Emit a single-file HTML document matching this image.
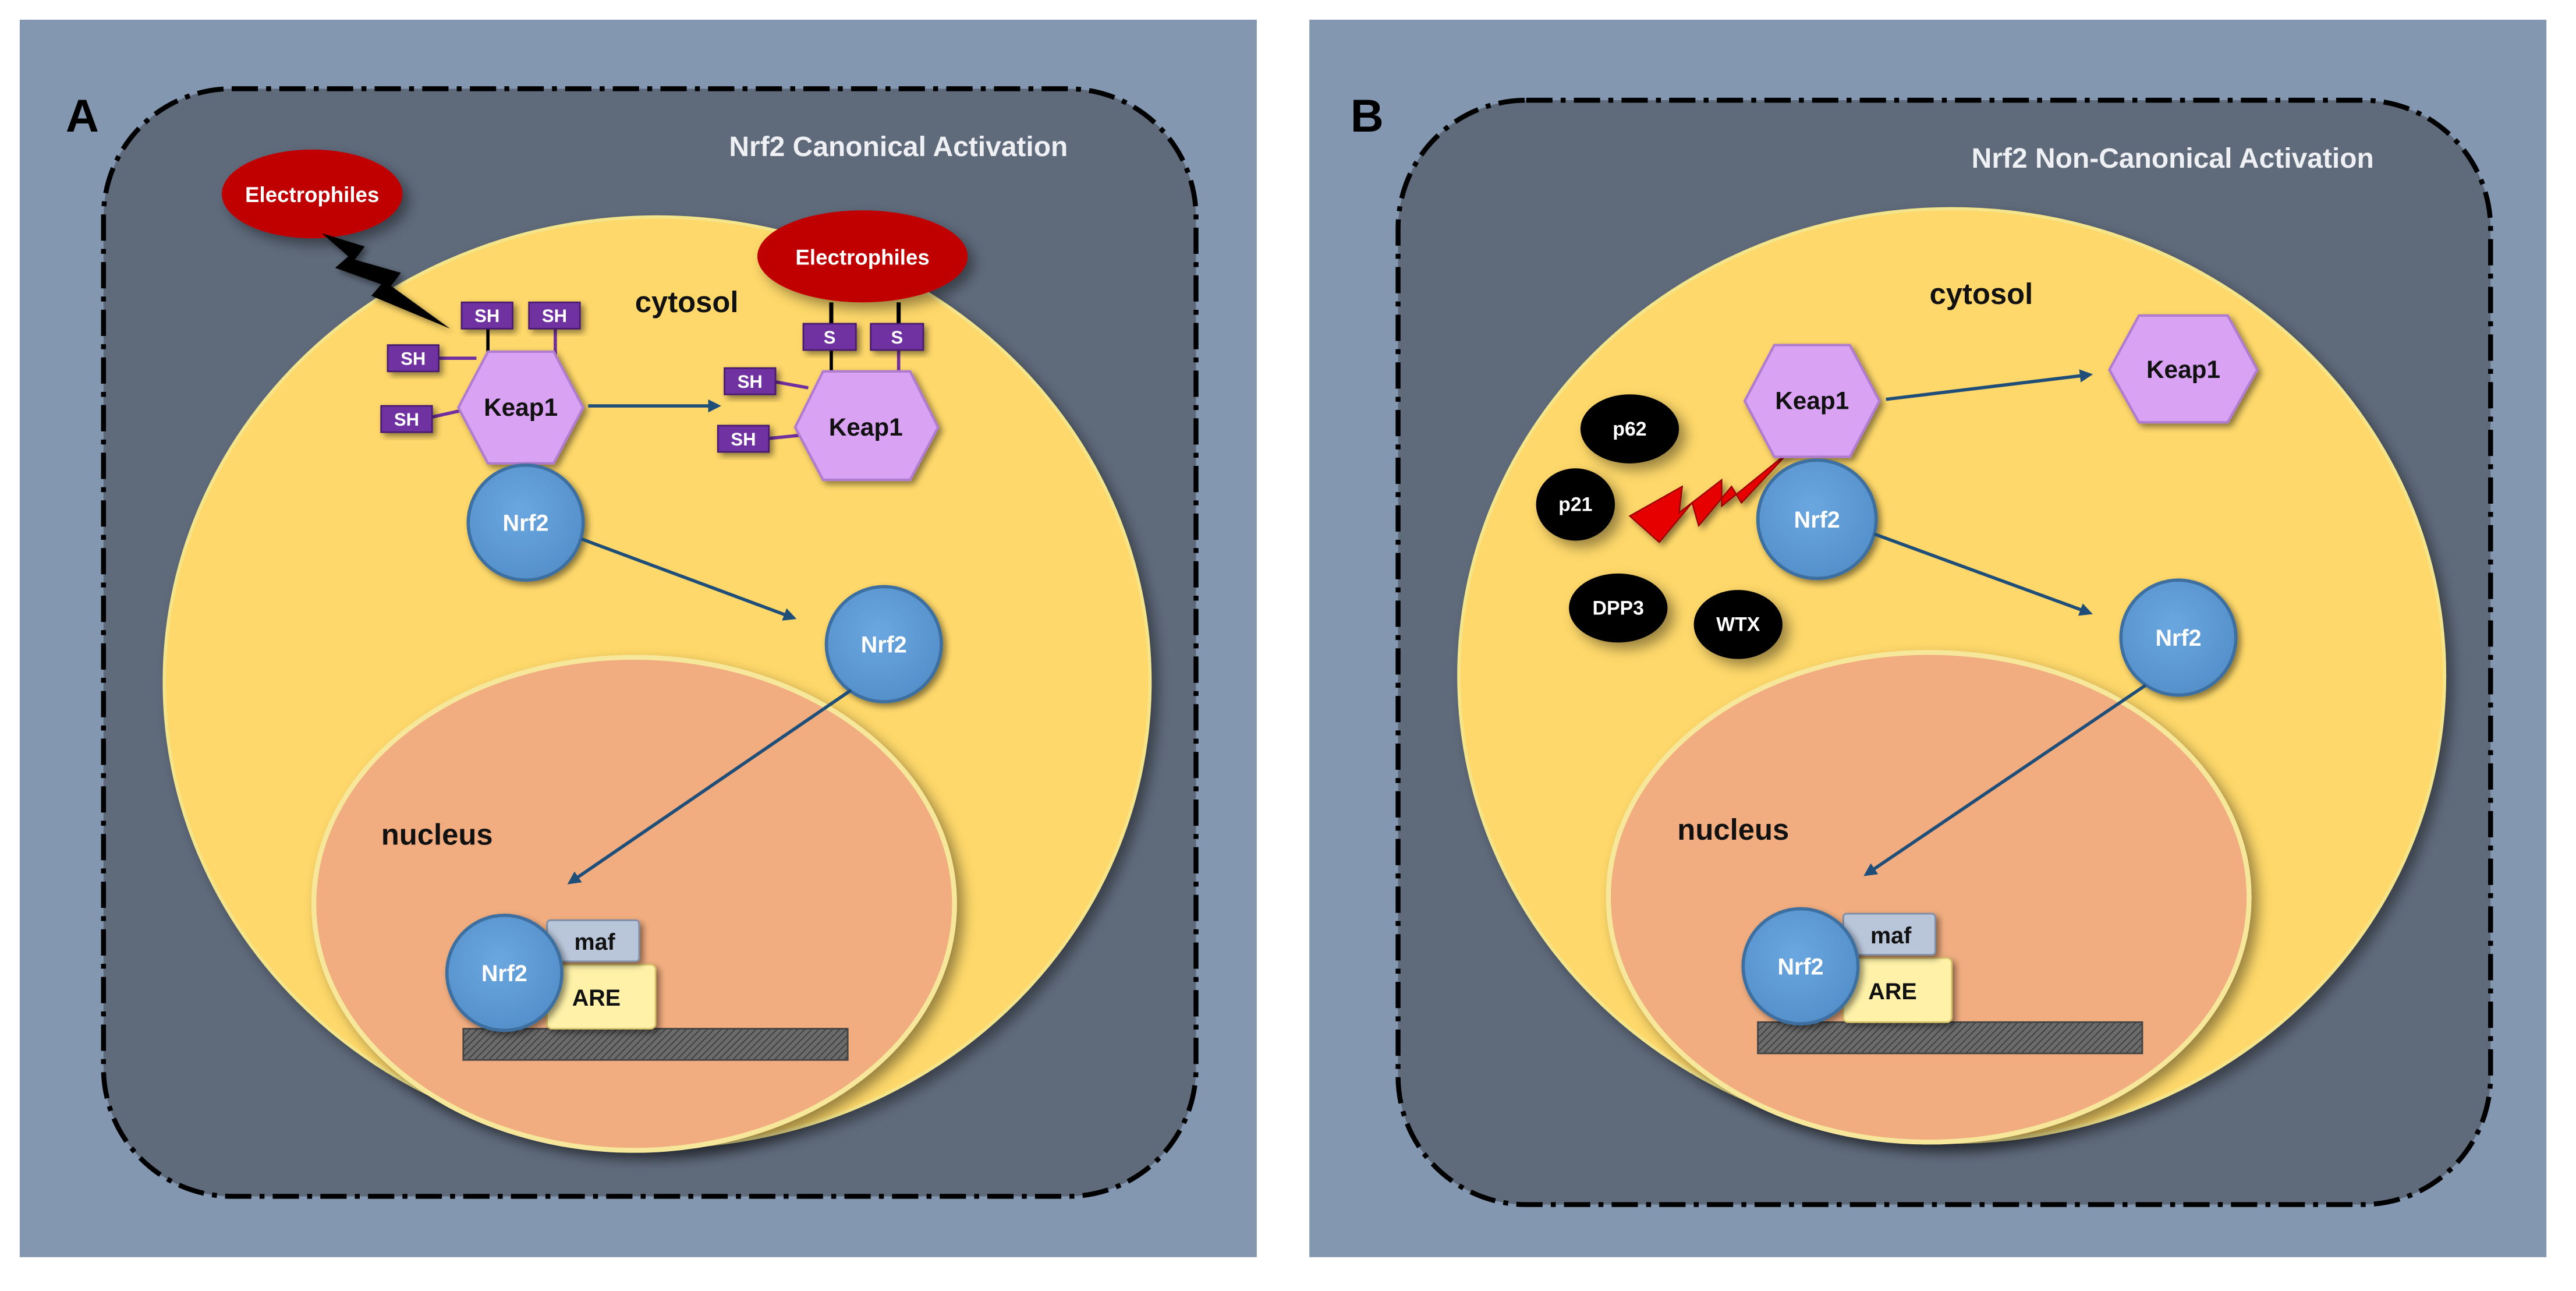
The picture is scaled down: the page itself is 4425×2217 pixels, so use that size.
<!DOCTYPE html>
<html><head><meta charset="utf-8"><style>
html,body{margin:0;padding:0;background:#fff;}
svg{display:block;}
text{font-family:"Liberation Sans","DejaVu Sans",sans-serif;font-weight:bold;}
</style></head><body>
<svg width="4425" height="2217" viewBox="0 0 1568 785.6" xmlns="http://www.w3.org/2000/svg">
<defs>
<filter id="sh" x="-20%" y="-20%" width="150%" height="150%"><feDropShadow dx="4" dy="4" stdDeviation="4" flood-color="#000" flood-opacity="0.4"/></filter>
<filter id="sh2" x="-20%" y="-20%" width="150%" height="150%"><feDropShadow dx="2" dy="2" stdDeviation="2" flood-color="#000" flood-opacity="0.45"/></filter>
<pattern id="hatch" width="3" height="3" patternUnits="userSpaceOnUse" patternTransform="rotate(45)"><rect width="3" height="3" fill="#6b6b6b"/><line x1="0" y1="0" x2="0" y2="3" stroke="#3a3a3a" stroke-width="1.2"/></pattern>
<marker id="ar" markerWidth="8" markerHeight="8" refX="6" refY="4" orient="auto" markerUnits="userSpaceOnUse"><path d="M0,0 L8,4 L0,8 Z" fill="#1f4e79"/></marker>
<radialGradient id="blu" cx="45%" cy="40%" r="60%"><stop offset="0" stop-color="#6aa7e0"/><stop offset="1" stop-color="#5590cb"/></radialGradient>
</defs>

<!-- Panel A -->
<rect x="12" y="12" width="753" height="753" fill="#8497b0"/>
<rect x="63" y="54" width="665" height="674" rx="78" fill="#5f6a7b" stroke="#000" stroke-width="3" stroke-dasharray="16,5,3,5"/>
<text x="40" y="80" font-size="28" fill="#000">A</text>
<text x="650" y="95" font-size="17" fill="#eef0f3" text-anchor="end">Nrf2 Canonical Activation</text>
<ellipse cx="400" cy="415" rx="300" ry="283" fill="#fed86a" stroke="#f5e58a" stroke-width="2" filter="url(#sh)"/>
<ellipse cx="386" cy="550" rx="195" ry="150" fill="#f1ad80" stroke="#f6e79a" stroke-width="3" filter="url(#sh)"/>
<text x="418" y="190" font-size="18" fill="#111" text-anchor="middle">cytosol</text>
<text x="266" y="514" font-size="18" fill="#111" text-anchor="middle">nucleus</text>

<ellipse cx="190" cy="118" rx="55" ry="27" fill="#c00000" filter="url(#sh)"/>
<text x="190" y="123" font-size="13" fill="#fff" text-anchor="middle">Electrophiles</text>
<path d="M196,142 L222,150 L216,158 L244,166 L238,174 L274,200 L226,180 L232,173 L204,163 L212,156 Z" fill="#000" filter="url(#sh2)"/>

<line x1="297" y1="200" x2="297" y2="216" stroke="#000" stroke-width="2"/>
<line x1="338" y1="200" x2="338" y2="216" stroke="#7030a0" stroke-width="2"/>
<line x1="266" y1="218" x2="290" y2="218" stroke="#7030a0" stroke-width="2"/>
<line x1="262" y1="254" x2="280" y2="250" stroke="#7030a0" stroke-width="2"/>
<polygon points="279,248 297,214 337,214 355,248 337,282 297,282" fill="#d9a2f3" stroke="#b07cd0" stroke-width="1.5" filter="url(#sh2)"/>
<text x="317" y="253" font-size="15" fill="#111" text-anchor="middle">Keap1</text>
<g font-size="11" fill="#fff" text-anchor="middle">
<rect x="281" y="184" width="31" height="16" fill="#7030a0" stroke="#4a1a70" filter="url(#sh2)"/><text x="296.5" y="196">SH</text>
<rect x="322" y="184" width="31" height="16" fill="#7030a0" stroke="#4a1a70" filter="url(#sh2)"/><text x="337.5" y="196">SH</text>
<rect x="236" y="210" width="31" height="16" fill="#7030a0" stroke="#4a1a70" filter="url(#sh2)"/><text x="251.5" y="222">SH</text>
<rect x="232" y="247" width="31" height="16" fill="#7030a0" stroke="#4a1a70" filter="url(#sh2)"/><text x="247.5" y="259">SH</text>
</g>
<circle cx="320" cy="318" r="35" fill="url(#blu)" stroke="#3d6fa0" stroke-width="2" filter="url(#sh2)"/>
<text x="320" y="323" font-size="14" fill="#fff" text-anchor="middle">Nrf2</text>
<line x1="358" y1="247" x2="437" y2="247" stroke="#1f4e79" stroke-width="2" marker-end="url(#ar)"/>

<ellipse cx="525" cy="156" rx="64" ry="28" fill="#c00000" filter="url(#sh)"/>
<text x="525" y="161" font-size="13" fill="#fff" text-anchor="middle">Electrophiles</text>
<line x1="506" y1="184" x2="506" y2="198" stroke="#000" stroke-width="2.5"/>
<line x1="547" y1="184" x2="547" y2="198" stroke="#000" stroke-width="2.5"/>
<line x1="506" y1="212" x2="506" y2="228" stroke="#000" stroke-width="2"/>
<line x1="547" y1="212" x2="547" y2="228" stroke="#7030a0" stroke-width="2"/>
<line x1="470" y1="232" x2="492" y2="236" stroke="#7030a0" stroke-width="2"/>
<line x1="466" y1="267" x2="486" y2="265" stroke="#7030a0" stroke-width="2"/>
<polygon points="484,260 501,226 554,226 571,260 554,292 501,292" fill="#d9a2f3" stroke="#b07cd0" stroke-width="1.5" filter="url(#sh2)"/>
<text x="527" y="265" font-size="15" fill="#111" text-anchor="middle">Keap1</text>
<g font-size="11" fill="#fff" text-anchor="middle">
<rect x="489" y="197" width="32" height="16" fill="#7030a0" stroke="#4a1a70" filter="url(#sh2)"/><text x="505" y="209">S</text>
<rect x="530" y="197" width="32" height="16" fill="#7030a0" stroke="#4a1a70" filter="url(#sh2)"/><text x="546" y="209">S</text>
<rect x="441" y="224" width="31" height="16" fill="#7030a0" stroke="#4a1a70" filter="url(#sh2)"/><text x="456.5" y="236">SH</text>
<rect x="437" y="259" width="31" height="16" fill="#7030a0" stroke="#4a1a70" filter="url(#sh2)"/><text x="452.5" y="271">SH</text>
</g>
<line x1="354" y1="328" x2="483" y2="376" stroke="#1f4e79" stroke-width="2" marker-end="url(#ar)"/>
<circle cx="538" cy="392" r="35" fill="url(#blu)" stroke="#3d6fa0" stroke-width="2" filter="url(#sh2)"/>
<text x="538" y="397" font-size="14" fill="#fff" text-anchor="middle">Nrf2</text>
<line x1="518" y1="420" x2="347" y2="537" stroke="#1f4e79" stroke-width="2" marker-end="url(#ar)"/>

<rect x="282" y="626" width="234" height="19" fill="url(#hatch)" stroke="#444"/>
<rect x="333" y="587" width="66" height="39" rx="3" fill="#fff2a8" stroke="#d8c46a" filter="url(#sh2)"/>
<text x="363" y="612" font-size="14" fill="#111" text-anchor="middle">ARE</text>
<rect x="333" y="560" width="56" height="25" rx="2" fill="#b9c6da" stroke="#7f8fa8" filter="url(#sh2)"/>
<text x="362" y="578" font-size="14" fill="#111" text-anchor="middle">maf</text>
<circle cx="307" cy="592" r="35" fill="url(#blu)" stroke="#3d6fa0" stroke-width="2" filter="url(#sh2)"/>
<text x="307" y="597" font-size="14" fill="#fff" text-anchor="middle">Nrf2</text>

<!-- Panel B -->
<rect x="797" y="12" width="753" height="753" fill="#8497b0"/>
<rect x="851" y="61" width="665" height="672" rx="78" fill="#5f6a7b" stroke="#000" stroke-width="3" stroke-dasharray="16,5,3,5"/>
<text x="822" y="80" font-size="28" fill="#000">B</text>
<text x="1445" y="102" font-size="17" fill="#eef0f3" text-anchor="end">Nrf2 Non-Canonical Activation</text>
<ellipse cx="1188" cy="411" rx="300" ry="284" fill="#fed86a" stroke="#f5e58a" stroke-width="2" filter="url(#sh)"/>
<ellipse cx="1174" cy="546" rx="195" ry="149" fill="#f1ad80" stroke="#f6e79a" stroke-width="3" filter="url(#sh)"/>
<text x="1206" y="185" font-size="18" fill="#111" text-anchor="middle">cytosol</text>
<text x="1055" y="511" font-size="18" fill="#111" text-anchor="middle">nucleus</text>

<g font-size="12" fill="#fff" text-anchor="middle">
<ellipse cx="992" cy="261" rx="30" ry="21" fill="#000" filter="url(#sh)"/><text x="992" y="265">p62</text>
<ellipse cx="959" cy="307" rx="24" ry="22" fill="#000" filter="url(#sh)"/><text x="959" y="311">p21</text>
<ellipse cx="985" cy="370" rx="30" ry="21" fill="#000" filter="url(#sh)"/><text x="985" y="374">DPP3</text>
<ellipse cx="1058" cy="380" rx="27" ry="21" fill="#000" filter="url(#sh)"/><text x="1058" y="384">WTX</text>
</g>
<path d="M992,314 L1024,296 L1022,312 L1048,292 L1048,308 L1090,274 L1060,306 L1054,296 L1034,320 L1030,306 L1010,330 Z" fill="#e60000" stroke="#900" stroke-width="0.8" filter="url(#sh2)"/>

<polygon points="1062,244 1080,210 1126,210 1144,244 1126,278 1080,278" fill="#d9a2f3" stroke="#b07cd0" stroke-width="1.5" filter="url(#sh2)"/>
<text x="1103" y="249" font-size="15" fill="#111" text-anchor="middle">Keap1</text>
<line x1="1148" y1="243" x2="1272" y2="228" stroke="#1f4e79" stroke-width="2" marker-end="url(#ar)"/>
<polygon points="1284,225 1302,192 1356,192 1374,225 1356,257 1302,257" fill="#d9a2f3" stroke="#b07cd0" stroke-width="1.5" filter="url(#sh2)"/>
<text x="1329" y="230" font-size="15" fill="#111" text-anchor="middle">Keap1</text>
<circle cx="1106" cy="316" r="36" fill="url(#blu)" stroke="#3d6fa0" stroke-width="2" filter="url(#sh2)"/>
<text x="1106" y="321" font-size="14" fill="#fff" text-anchor="middle">Nrf2</text>
<line x1="1141" y1="325" x2="1272" y2="373" stroke="#1f4e79" stroke-width="2" marker-end="url(#ar)"/>
<circle cx="1326" cy="388" r="35" fill="url(#blu)" stroke="#3d6fa0" stroke-width="2" filter="url(#sh2)"/>
<text x="1326" y="393" font-size="14" fill="#fff" text-anchor="middle">Nrf2</text>
<line x1="1306" y1="417" x2="1136" y2="532" stroke="#1f4e79" stroke-width="2" marker-end="url(#ar)"/>

<rect x="1070" y="622" width="234" height="19" fill="url(#hatch)" stroke="#444"/>
<rect x="1122" y="583" width="66" height="39" rx="3" fill="#fff2a8" stroke="#d8c46a" filter="url(#sh2)"/>
<text x="1152" y="608" font-size="14" fill="#111" text-anchor="middle">ARE</text>
<rect x="1122" y="556" width="56" height="25" rx="2" fill="#b9c6da" stroke="#7f8fa8" filter="url(#sh2)"/>
<text x="1151" y="574" font-size="14" fill="#111" text-anchor="middle">maf</text>
<circle cx="1096" cy="588" r="35" fill="url(#blu)" stroke="#3d6fa0" stroke-width="2" filter="url(#sh2)"/>
<text x="1096" y="593" font-size="14" fill="#fff" text-anchor="middle">Nrf2</text>
</svg>
</body></html>
